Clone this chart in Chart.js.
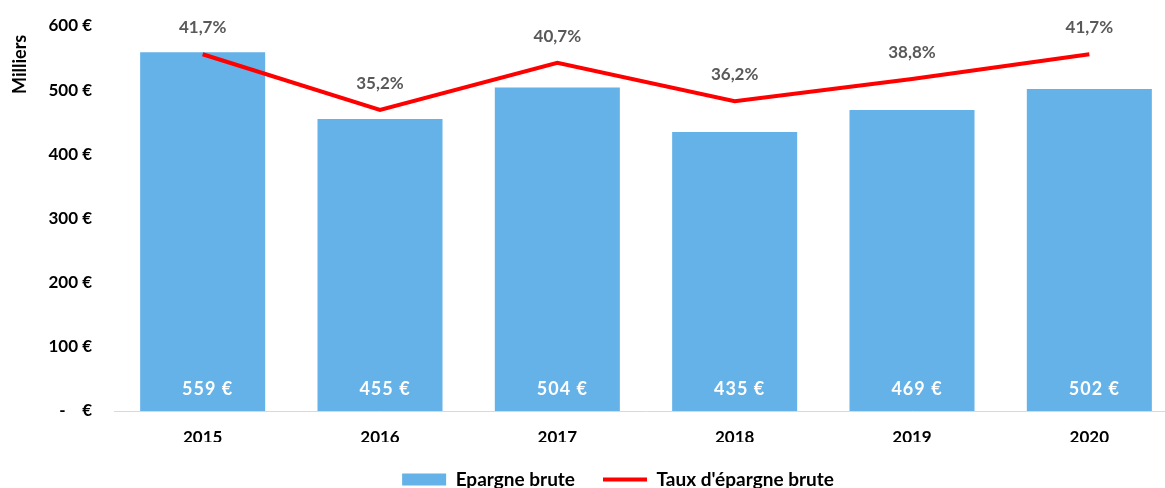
<!DOCTYPE html>
<html>
<head>
<meta charset="utf-8">
<script src="https://cdn.jsdelivr.net/npm/chart.js@4/dist/chart.umd.min.js"></script>
<style>
html,body{margin:0;padding:0;background:#fff;overflow:hidden;}
#wrap{position:absolute;left:0;top:0;width:1226px;height:496px;}
</style>
</head>
<body>
<div id="wrap"><canvas id="c"></canvas></div>
<script>
const categories = ['2015','2016','2017','2018','2019','2020'];
const epargneBrute = [559, 455, 504, 435, 469, 502];
const tauxEpargne = [41.7, 35.2, 40.7, 36.2, 38.8, 41.7];
const yTicks = [0, 100, 200, 300, 400, 500, 600];

const FONT = 'Lato, "Liberation Sans", sans-serif';

function fmtPct(v){ return v.toFixed(1).replace('.', ',') + '%'; }

const labelPlugin = {
  id: 'valueLabels',
  afterInit(chart){
    const lg = chart.legend;
    if (lg) {
      const orig = lg.fit;
      lg.fit = function(){ orig.call(this); this.height = 54; };
    }
  },
  afterLayout(chart){
    const lg = chart.legend;
    if (lg) { lg.left += 29; lg.right += 29; }
  },
  afterDatasetsDraw(chart){
    const ctx = chart.ctx;
    ctx.save();
    ctx.textAlign = 'center';
    ctx.textBaseline = 'middle';
    const barMeta = chart.getDatasetMeta(1);
    const yScale = chart.scales.y;
    ctx.font = 'bold 18px ' + FONT;
    ctx.fillStyle = '#FFFFFF';
    if ('letterSpacing' in ctx) ctx.letterSpacing = '1px';
    barMeta.data.forEach((el, i) => {
      ctx.fillText(epargneBrute[i] + ' €', el.x + 5, yScale.bottom - 21.5);
    });
    if ('letterSpacing' in ctx) ctx.letterSpacing = '0px';
    const lineMeta = chart.getDatasetMeta(0);
    ctx.font = 'bold 17px ' + FONT;
    ctx.fillStyle = '#595959';
    lineMeta.data.forEach((el, i) => {
      ctx.fillText(fmtPct(tauxEpargne[i]), el.x, el.y - 26.5);
    });
    ctx.restore();
  }
};

new Chart(document.getElementById('c'), {
  data: {
    labels: categories,
    datasets: [
      {
        type: 'line',
        label: "Taux d'épargne brute",
        data: tauxEpargne,
        yAxisID: 'y1',
        borderColor: '#FF0000',
        backgroundColor: '#FF0000',
        borderWidth: 4,
        pointRadius: 0,
        tension: 0,
        pointStyle: 'line'
      },
      {
        type: 'bar',
        label: 'Epargne brute',
        data: epargneBrute,
        yAxisID: 'y',
        backgroundColor: '#64B2E8',
        borderWidth: 0,
        categoryPercentage: 1,
        barPercentage: 0.705,
        pointStyle: 'rect'
      }
    ]
  },
  options: {
    responsive: true,
    maintainAspectRatio: false,
    animation: false,
    layout: { padding: { left: 0, right: 48, top: 26, bottom: 0 } },
    plugins: {
      tooltip: { enabled: false },
      legend: {
        position: 'bottom',
        labels: {
          sort: (a, b) => b.datasetIndex - a.datasetIndex,
          usePointStyle: true,
          pointStyleWidth: 44,
          boxHeight: 12,
          padding: 28,
          color: '#000000',
          font: { family: FONT, size: 19, weight: 'bold' }
        }
      }
    },
    scales: {
      x: {
        afterFit(scale){ scale.height = 31; },
        grid: { display: true, drawOnChartArea: false, drawTicks: false, color: 'rgba(0,0,0,0)' },
        border: { display: true, color: '#D9D9D9', width: 1 },
        ticks: { color: '#000000', padding: 16, font: { family: FONT, size: 17, weight: 'bold' } }
      },
      y: {
        position: 'left',
        min: 0,
        max: 600,
        afterBuildTicks(scale){ scale.ticks = yTicks.map(v => ({ value: v })); },
        afterFit(scale){ scale.width = 114; scale.paddingTop = 0; scale.paddingBottom = 0; },
        grid: { display: false, drawTicks: false },
        border: { display: false },
        ticks: {
          color: '#000000',
          padding: 22,
          font: { family: FONT, size: 17, weight: 'bold' },
          callback: (v) => v === 0 ? '-    €' : v + ' €'
        },
        title: {
          display: true,
          text: 'Milliers  ',
          align: 'end',
          color: '#000000',
          padding: { top: 9, bottom: 0 },
          font: { family: FONT, size: 18, weight: 'bold' }
        }
      },
      y1: {
        display: false,
        min: 0,
        max: 45
      }
    }
  },
  plugins: [labelPlugin]
});
</script>
</body>
</html>
